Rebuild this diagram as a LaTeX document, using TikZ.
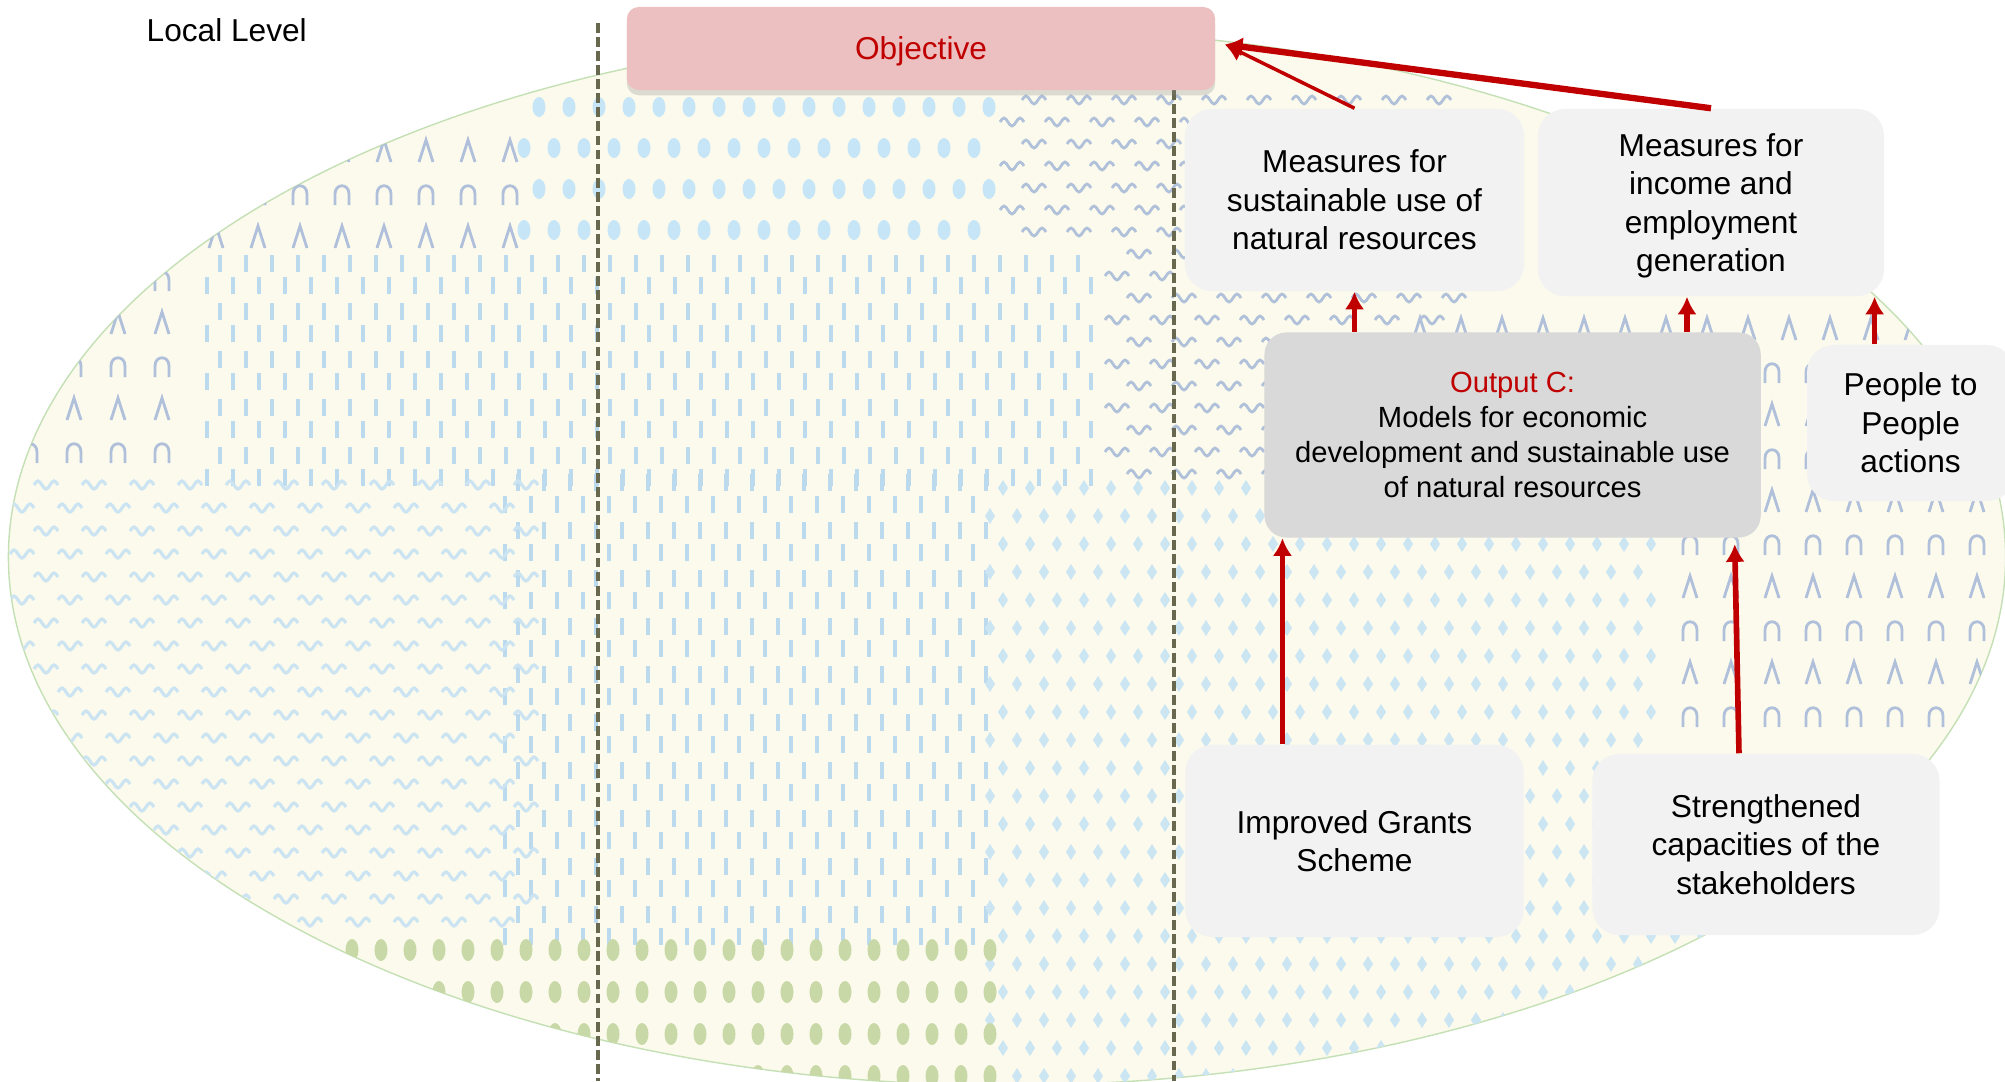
\documentclass[tikz,border=0pt]{standalone}
\usepackage{fontspec}
\setmainfont{Liberation Sans}
\usetikzlibrary{arrows.meta,shadows}

\definecolor{myred}{RGB}{192,0,0}
\definecolor{objpink}{RGB}{236,191,192}
\definecolor{boxgrey}{RGB}{242,242,242}
\definecolor{outgrey}{RGB}{217,217,217}
\definecolor{field}{RGB}{251,250,237}
\definecolor{fieldedge}{RGB}{196,224,180}
\definecolor{divcol}{RGB}{104,104,78}
\definecolor{tickblue}{RGB}{188,218,238}
\definecolor{dotblue}{RGB}{198,229,246}
\definecolor{waveblue}{RGB}{204,228,242}
\definecolor{wavegrey}{RGB}{178,193,218}
\definecolor{hatblue}{RGB}{176,191,218}
\definecolor{diablue}{RGB}{204,229,243}
\definecolor{leaf}{RGB}{200,216,166}

\begin{document}
\begin{tikzpicture}[x=0.01cm, y=-0.01cm, font=\fontsize{9pt}{10.9pt}\selectfont,
  box/.style={fill=boxgrey, rounded corners=0.27cm, align=center, inner sep=0pt},
  link/.style={draw=myred, line width=1.6pt, -{Latex[length=5pt,width=5.5pt]}},
  divider/.style={draw=divcol, line width=1pt, dash pattern=on 2.8pt off 1.2pt},
  tick/.style={draw=tickblue, line width=0.9pt},
  hat/.style={draw=hatblue, line width=0.8pt},
  wave/.style={draw=waveblue, line width=0.9pt},
  wavedark/.style={draw=wavegrey, line width=0.8pt}]
\useasboundingbox (0,0) rectangle (2005,1081);

% the field
\fill[field, draw=fieldedge, line width=0.4pt] (1007,557) ellipse [x radius=9.98cm, y radius=5.28cm];
\begin{scope}
\clip (1007,557) ellipse [x radius=9.98cm, y radius=5.28cm];

% dots on top
\foreach \y [count=\r] in {107,148,189,230}
  \foreach \x in {524,554,...,990}
    \fill[dotblue] ({\x+mod(\r,2)*15},\y) ellipse [x radius=0.065cm, y radius=0.1cm];

% hats left
\foreach \y [count=\r] in {151,194,...,460} {
  \ifnum\r<4 \def\xlist{216,258,...,510}\else\def\xlist{30,74,...,200}\fi
  \foreach \x in \xlist {
    \ifodd\r
      \draw[hat] (\x,\y) ++(-7,11) -- ++(7,-22) -- ++(7,22);
    \else
      \draw[hat] ({\x-7},{\y+11}) -- ({\x-7},\y) .. controls ({\x-7},{\y-11}) and ({\x+7},{\y-11}) .. ({\x+7},\y) -- ({\x+7},{\y+11});
    \fi
  }
}

% hats right
\foreach \y [count=\r] in {329,372,...,720} {
  \ifnum\r=1 \def\xlist{1420,1461,...,2005}\else\def\xlist{1690,1731,...,2005}\fi
  \foreach \x in \xlist {
    \ifodd\r
      \draw[hat] (\x,\y) ++(-7,11) -- ++(7,-22) -- ++(7,22);
    \else
      \draw[hat] ({\x-7},{\y+11}) -- ({\x-7},\y) .. controls ({\x-7},{\y-11}) and ({\x+7},{\y-11}) .. ({\x+7},\y) -- ({\x+7},{\y+11});
    \fi
  }
}

% ticks
\foreach \x [count=\c] in {207,220,...,1095}
  \foreach \y in {255,303,...,450}
    \draw[tick] (\x,{\y+mod(\c,2)*22}) -- ++(0,17);
\foreach \x [count=\c] in {505,518,...,987}
  \foreach \y in {474,522,...,910}
    \draw[tick] (\x,{\y+mod(\c,2)*22}) -- ++(0,17);

% waves
\foreach \y [count=\r] in {485,508,...,925}
  \foreach \x in {10,58,...,500}
    \draw[wave] ({\x+mod(\r,2)*24},\y) sin ++(4,-4) cos ++(4,4) sin ++(4,4) cos ++(4,-4) sin ++(4,-4) cos ++(4,4);
\foreach \y [count=\r] in {100,122,...,250}
  \foreach \x in {1000,1045,...,1440}
    \draw[wavedark] ({\x+mod(\r,2)*22},\y) sin ++(4,-4) cos ++(4,4) sin ++(4,4) cos ++(4,-4) sin ++(4,-4) cos ++(4,4);
\foreach \y [count=\r] in {254,276,...,474}
  \foreach \x in {1105,1150,...,1440}
    \draw[wavedark] ({\x+mod(\r,2)*22},\y) sin ++(4,-4) cos ++(4,4) sin ++(4,4) cos ++(4,-4) sin ++(4,-4) cos ++(4,4);

% diamonds
\foreach \y [count=\r] in {480,508,...,1081}
  \foreach \x in {990,1017,...,1662}
    \fill[diablue] ({\x+mod(\r,2)*13},\y) -- ++(5,8) -- ++(-5,8) -- ++(-5,-8) -- cycle;
\foreach \y [count=\r] in {760,788,...,1081}
  \foreach \x in {1662,1689,...,2005}
    \fill[diablue] ({\x+mod(\r,2)*13},\y) -- ++(5,8) -- ++(-5,8) -- ++(-5,-8) -- cycle;

% green dots
\foreach \y in {950,992,1034,1076}
  \foreach \x in {352,381,...,997}
    \fill[leaf] (\x,\y) ellipse [x radius=0.065cm, y radius=0.11cm];
\end{scope}

\draw[divider] (598,23) -- (598,1081);
\draw[divider] (1174,90) -- (1174,1081);

\node[anchor=west, inner sep=0pt] (lvl) at (146,30) {Local Level};

\node[fill=objpink, rounded corners=0.12cm, minimum width=5.88cm, minimum height=0.83cm, text depth=0pt,
  text=myred, drop shadow={shadow xshift=0pt, shadow yshift=-1.5pt, opacity=0.25}] (obj) at (921,48.5) {Objective};

\node[box, minimum width=3.39cm, minimum height=1.82cm] (natres) at (1354.5,200)
  {Measures for\\sustainable use of\\natural resources};
\node[box, minimum width=3.46cm, minimum height=1.87cm] (income) at (1711,202.5)
  {Measures for\\income and\\employment\\\smash{generation}};
\node[box, fill=outgrey, rounded corners=0.22cm, minimum width=4.96cm, minimum height=2.05cm,
  font=\fontsize{8.3pt}{10pt}\selectfont] (outc) at (1512.6,435)
  {{\color{myred}Output C:}\\Models for economic\\development and sustainable use\\of natural resources};
\node[box, minimum width=2.07cm, minimum height=1.56cm] (people) at (1910.6,423)
  {People to\\People\\actions};
\node[box, minimum width=3.38cm, minimum height=1.92cm] (grants) at (1354.5,841)
  {Improved Grants\\Scheme};
\node[box, minimum width=3.47cm, minimum height=1.81cm] (stake) at (1766,844.5)
  {Strengthened\\capacities of the\\stakeholders};

\draw[link, line width=1pt] (natres.north) -- ([xshift=0.09cm,yshift=0.04cm]obj.east);
\draw[link, line width=1.8pt] (income.north) -- ([xshift=0.09cm,yshift=0.04cm]obj.east);
\draw[link] (outc.north -| natres.south) -- (natres.south);
\draw[link] ([xshift=-0.24cm]income.south |- outc.north) -- ([xshift=-0.24cm]income.south);
\draw[link] ([xshift=-0.36cm]people.north) -- ([xshift=-0.36cm]people.north |- income.south);
\draw[link] ([xshift=-0.72cm]grants.north) -- ([xshift=-0.72cm]grants.north |- outc.south);
\draw[link] ([xshift=-0.27cm]stake.north) -- ([xshift=2.22cm,yshift=-0.06cm]outc.south);
\end{tikzpicture}
\end{document}
